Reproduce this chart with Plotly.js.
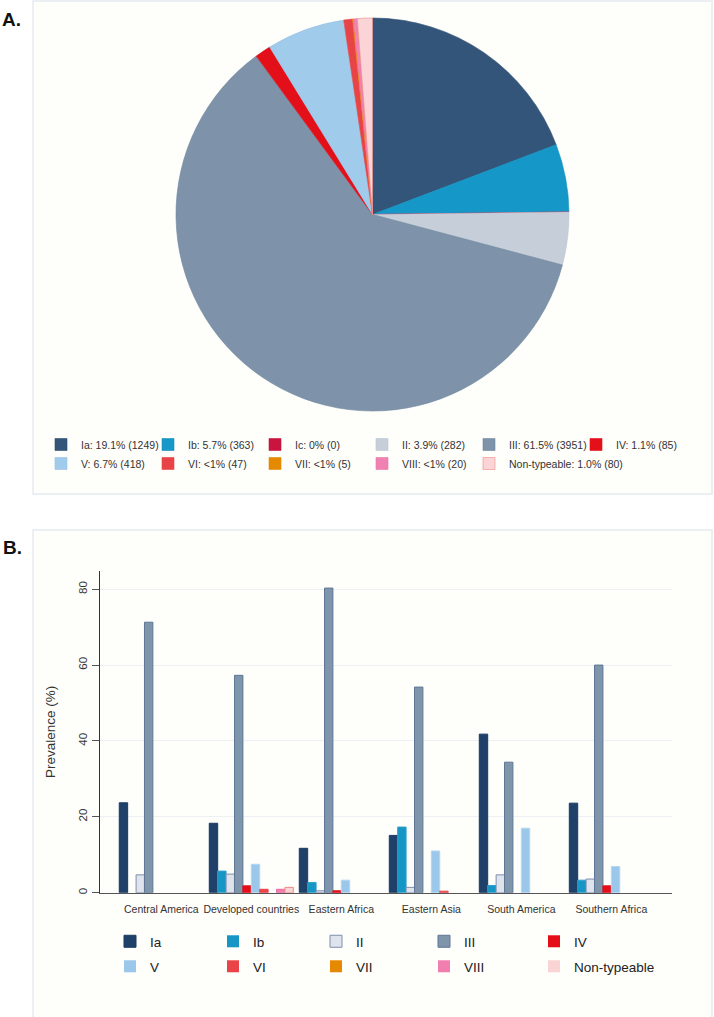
<!DOCTYPE html>
<html>
<head>
<meta charset="utf-8">
<script src="https://cdn.plot.ly/plotly-3.0.1.min.js"></script>
<style>
  html, body { margin: 0; padding: 0; background: #ffffff; }
  #chart { width: 714px; height: 1017px; }
</style>
</head>
<body>
<div id="chart"></div>
<script>
// ---------- Panel A data (pie) ----------
const pieLabels = ['Ia', 'Ib', 'Ic', 'II', 'III', 'IV', 'V', 'VI', 'VII', 'VIII', 'Non-typeable'];
const piePercentText = ['19.1%', '5.7%', '0%', '3.9%', '61.5%', '1.1%', '6.7%', '&lt;1%', '&lt;1%', '&lt;1%', '1.0%'];
const pieCounts = [1249, 363, 0, 282, 3951, 85, 418, 47, 5, 20, 80];
const pieColors = ['#33557A', '#1597C7', '#C8143F', '#C6CFD9', '#7E93A9', '#E3101A', '#A1CBEB', '#E84448', '#E58A00', '#EF82B1', '#FAD4D6'];
const pieLineColors = ['#2E4E72', '#1490BE', '#C8143F', '#BCC6D2', '#6F86A0', '#E3101A', '#97C3E6', '#E84448', '#E58A00', '#EC76A8', '#F08A80'];

// ---------- Panel B data (grouped bars) ----------
const categories = ['Central America', 'Developed countries', 'Eastern Africa', 'Eastern Asia', 'South America', 'Southern Africa'];
const serotypes = ['Ia', 'Ib', 'II', 'III', 'IV', 'V', 'VI', 'VII', 'VIII', 'Non-typeable'];
const ia          = [23.7, 18.3, 11.7, 15.1, 41.8, 23.6];
const ib          = [0, 5.7, 2.7, 17.3, 1.9, 3.3];
const ii          = [4.7, 4.9, 0.5, 1.4, 4.7, 3.6];
const iii         = [71.3, 57.3, 80.3, 54.2, 34.4, 60.0];
const iv          = [0, 1.8, 0.5, 0, 0, 1.8];
const v           = [0, 7.5, 3.3, 11.0, 17.0, 6.9];
const vi          = [0, 0.9, 0, 0.4, 0, 0];
const vii         = [0, 0, 0, 0, 0, 0];
const viii        = [0, 0.9, 0, 0, 0, 0];
const nonTypeable = [0, 1.4, 0, 0, 0, 0];
const barValues = [ia, ib, ii, iii, iv, v, vi, vii, viii, nonTypeable];
const barColors = ['#1F4169', '#1596C4', '#DEE3EC', '#7E95AB', '#E50D17', '#9AC7EA', '#EA4449', '#E58A00', '#F07FAF', '#FAD3D4'];
const barLineColors = ['#1A3A60', '#2FA0CC', '#7F8FAE', '#5F7794', '#E50D17', '#B5D6F0', '#EA4449', '#E58A00', '#E86AA0', '#F08A80'];
const yTicks = [0, 20, 40, 60, 80];

// ---------- Build figure ----------
const W = 714, H = 1017;
const px = x => x / W;          // pixel -> paper x
const py = y => 1 - y / H;      // pixel -> paper y
const FONT = 'Liberation Sans, Arial, sans-serif';

// legend column widths (style only)
const legendColWidths = [58, 58, 63, 65, 110];

const traces = [];

traces.push({
  type: 'pie',
  labels: pieLabels.map((l, i) => l + ': ' + piePercentText[i] + ' (' + pieCounts[i] + ')'),
  values: pieCounts,
  sort: false,
  direction: 'clockwise',
  rotation: 0,
  textinfo: 'none',
  hoverinfo: 'none',
  marker: { colors: pieColors, line: { color: pieLineColors, width: 0.6 } },
  domain: { x: [px(176), px(569)], y: [py(411), py(18)] },
  legend: 'legend',
  showlegend: true
});

serotypes.forEach((name, i) => {
  traces.push({
    type: 'bar',
    name: name,
    x: categories,
    y: barValues[i],
    marker: {
      color: barColors[i],
      line: { color: barLineColors[i], width: barValues[i].map(val => (val > 0 ? 1 : 0)) }
    },
    hoverinfo: 'none',
    legend: i < 5 ? 'legend2' : 'legend3',
    legendwidth: legendColWidths[i % 5],
    xaxis: 'x',
    yaxis: 'y'
  });
});

const layout = {
  width: W,
  height: H,
  margin: { l: 0, r: 0, t: 0, b: 0, autoexpand: false },
  paper_bgcolor: '#ffffff',
  plot_bgcolor: 'rgba(0,0,0,0)',
  font: { family: FONT, color: '#333333' },
  barmode: 'group',
  bargap: 0.066,
  bargroupgap: 0,
  xaxis: {
    domain: [px(100), px(672)],
    type: 'category',
    range: [-0.681, 5.674],
    showline: true,
    linecolor: '#555555',
    linewidth: 1.5,
    ticks: '',
    showgrid: false,
    zeroline: false,
    tickfont: { size: 10.5, color: '#333333', family: FONT },
    ticklabelstandoff: 6,
    anchor: 'y',
    fixedrange: true
  },
  yaxis: {
    domain: [py(892.7), py(571)],
    range: [0, 84.8],
    tickvals: yTicks,
    ticktext: yTicks.map(String),
    tickangle: -90,
    showline: true,
    linecolor: '#333333',
    linewidth: 1,
    ticks: 'outside',
    ticklen: 7,
    tickcolor: '#555555',
    showgrid: true,
    gridcolor: '#EDF1F6',
    gridwidth: 1,
    zeroline: false,
    tickfont: { size: 11.5, color: '#333333', family: FONT },
    title: { text: 'Prevalence (%)', font: { size: 13.5, color: '#333333', family: FONT }, standoff: 18 },
    anchor: 'x',
    fixedrange: true
  },
  legend: {
    orientation: 'h',
    x: px(41), xanchor: 'left',
    y: py(430), yanchor: 'top',
    entrywidth: 62,
    entrywidthmode: 'pixels',
    bgcolor: 'rgba(0,0,0,0)',
    font: { size: 10.5, color: '#333333', family: FONT },
    traceorder: 'normal'
  },
  legend2: {
    orientation: 'h',
    x: px(110), xanchor: 'left',
    y: py(926), yanchor: 'top',
    bgcolor: 'rgba(0,0,0,0)',
    font: { size: 13.5, color: '#222222', family: FONT },
    traceorder: 'normal'
  },
  legend3: {
    orientation: 'h',
    x: px(110), xanchor: 'left',
    y: py(951), yanchor: 'top',
    bgcolor: 'rgba(0,0,0,0)',
    font: { size: 13.5, color: '#222222', family: FONT },
    traceorder: 'normal'
  },
  shapes: [
    { type: 'rect', xref: 'paper', yref: 'paper', layer: 'below',
      x0: px(33), x1: px(712), y0: py(494), y1: py(1),
      line: { color: '#E6EAEF', width: 1.5 }, fillcolor: '#FEFEFB' },
    { type: 'rect', xref: 'paper', yref: 'paper', layer: 'below',
      x0: px(33), x1: px(712), y0: py(1030), y1: py(530),
      line: { color: '#E6EAEF', width: 1.5 }, fillcolor: '#FEFEFB' }
  ],
  annotations: [
    { text: '<b>A.</b>', xref: 'paper', yref: 'paper', x: px(0), y: py(19),
      xanchor: 'left', yanchor: 'middle', showarrow: false,
      font: { size: 19, color: '#111111', family: FONT } },
    { text: '<b>B.</b>', xref: 'paper', yref: 'paper', x: px(1), y: py(547),
      xanchor: 'left', yanchor: 'middle', showarrow: false,
      font: { size: 19, color: '#111111', family: FONT } }
  ],
  showlegend: true
};

Plotly.newPlot('chart', traces, layout, { displayModeBar: false, staticPlot: true });
</script>
</body>
</html>
